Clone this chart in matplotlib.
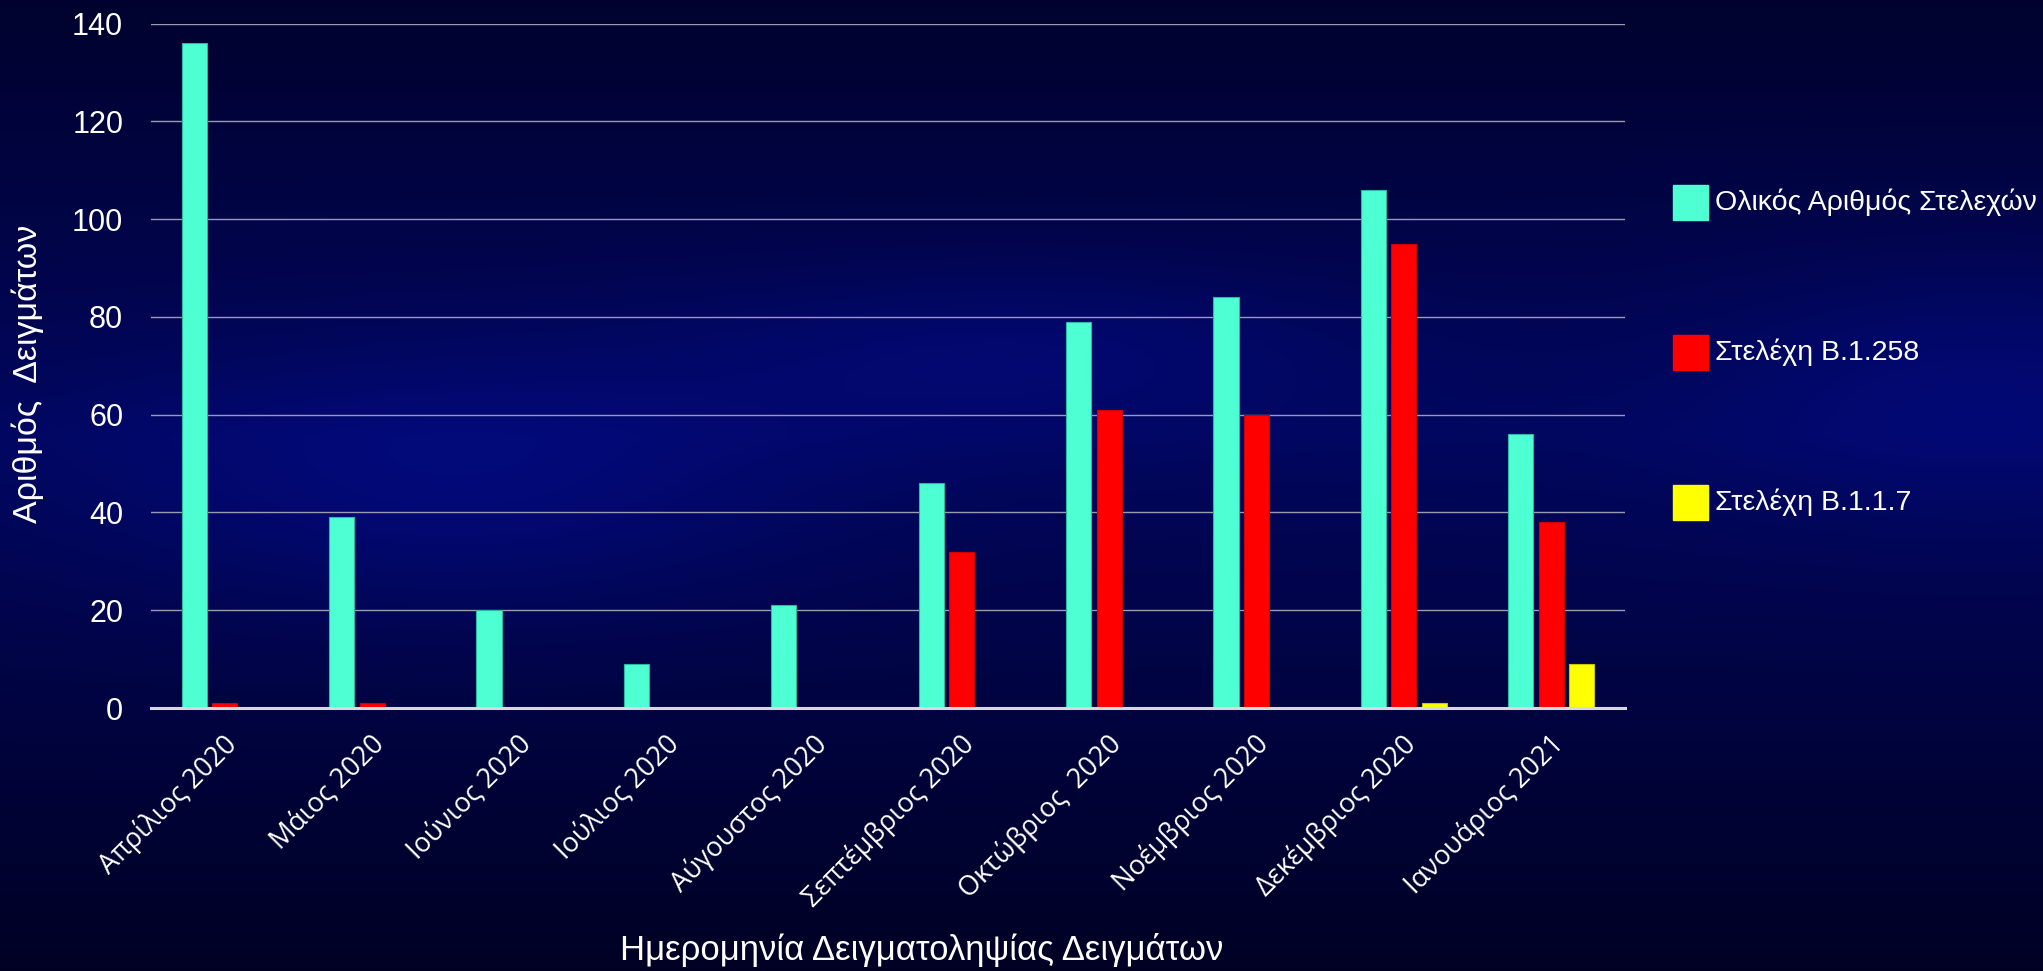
import numpy as np
import matplotlib.pyplot as plt
from matplotlib.patches import Rectangle
import matplotlib.transforms as mtransforms

months = ['Απρίλιος 2020', 'Μάιος 2020', 'Ιούνιος 2020', 'Ιούλιος 2020', 'Αύγουστος 2020',
          'Σεπτέμβριος 2020', 'Οκτώβριος  2020', 'Νοέμβριος 2020', 'Δεκέμβριος 2020', 'Ιανουάριος 2021']
total = [136, 39, 20, 9, 21, 46, 79, 84, 106, 56]
b1258 = [1, 1, 0, 0, 0, 32, 61, 60, 95, 38]
b117 = [0, 0, 0, 0, 0, 0, 0, 0, 1, 9]
series_names = ['Ολικός Αριθμός Στελεχών', 'Στελέχη Β.1.258', 'Στελέχη Β.1.1.7']
colors = ['#4dffd2', '#ff0000', '#ffff00']
edges = ['#2fb8a0', '#d00000', '#c8c800']

W, H = 2043, 971
fig = plt.figure(figsize=(W / 100, H / 100), dpi=100)

# background: dark navy, brighter blue band through the middle
bg = fig.add_axes([0, 0, 1, 1])
yy, xx = np.mgrid[0:1:400j, 0:1:800j]
base = 0.62 - 0.95 * np.abs(yy - 0.45)
blob = (0.30 * np.exp(-((xx - 0.22) ** 2 / 0.03 + (yy - 0.50) ** 2 / 0.02))
        + 0.25 * np.exp(-((xx - 0.97) ** 2 / 0.02 + (yy - 0.40) ** 2 / 0.02))
        + 0.25 * np.exp(-((xx - 0.50) ** 2 / 0.03 + (yy - 0.36) ** 2 / 0.008)))
v = np.clip(base + blob, 0, 1)
img = np.zeros(v.shape + (3,))
img[..., 0] = 0.01 * v
img[..., 1] = 0.04 * v
img[..., 2] = 0.10 + 0.42 * v
bg.imshow(img, aspect='auto', extent=[0, 1, 0, 1], origin='upper')
bg.axis('off')

ax = fig.add_axes([151 / W, 1 - 708 / H, (1625 - 151) / W, (708 - 23.5) / H])
ax.patch.set_alpha(0)

x = np.arange(len(months)) + 0.5
w = 0.17
off = 0.207
for i, (vals, c, ec, name) in enumerate(zip([total, b1258, b117], colors, edges, series_names)):
    ax.bar(x + (i - 1) * off, vals, width=w, color=c, edgecolor=ec, linewidth=0.8,
           label=name, zorder=3)

ax.set_xlim(0, len(months))
ax.set_ylim(0, 140)
ax.set_yticks(range(0, 141, 20))
ax.grid(axis='y', color='#9a9ab0', linewidth=1, zorder=0)
for s in ['top', 'right', 'left']:
    ax.spines[s].set_visible(False)
ax.spines['bottom'].set_color('#d9d9d9')
ax.spines['bottom'].set_linewidth(2.2)
ax.spines['bottom'].set_zorder(4)
ax.tick_params(axis='both', length=0, colors='white')
for lab in ax.get_yticklabels():
    lab.set_fontfamily('Liberation Sans')
    lab.set_fontsize(22)
ax.tick_params(axis='y', pad=20)

ax.set_xticks(x)
ax.set_xticklabels(months, rotation=45, ha='right', rotation_mode='anchor',
                   fontfamily='Open Sans', fontsize=19.5, color='white')
shift = mtransforms.ScaledTranslation(-0.02, -0.17, fig.dpi_scale_trans)
for lab in ax.get_xticklabels():
    lab.set_transform(lab.get_transform() + shift)

fig.text(28 / W, 1 - 374 / H, 'Αριθμός  Δειγμάτων', rotation=90, ha='center', va='center',
         color='white', fontsize=24.5, fontfamily='Liberation Sans')
fig.text(922 / W, 1 - 950 / H, 'Ημερομηνία Δειγματοληψίας Δειγμάτων', ha='center', va='center',
         color='white', fontsize=25, fontfamily='Liberation Sans')

# legend
leg_y = [202, 352, 502]
for yv, c, name in zip(leg_y, colors, series_names):
    fig.patches.append(Rectangle((1673 / W, 1 - (yv + 17.5) / H), 35 / W, 35 / H,
                                 transform=fig.transFigure, color=c))
    fig.text(1715 / W, 1 - yv / H, name, ha='left', va='center', color='white',
             fontsize=20.5, fontfamily='Liberation Sans')

fig.savefig('out.png', dpi=100)
